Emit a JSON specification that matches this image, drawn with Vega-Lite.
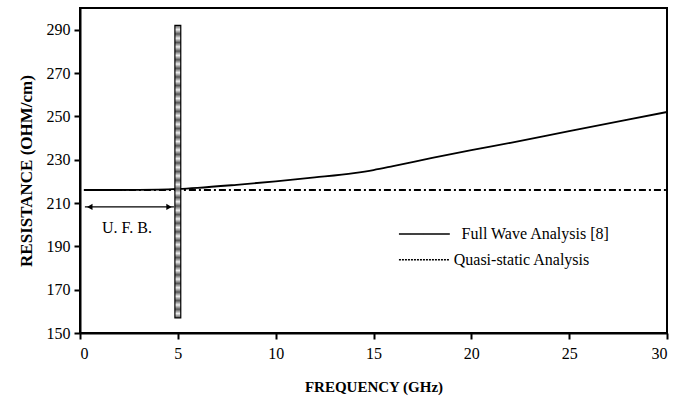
{
  "$schema": "https://vega.github.io/schema/vega-lite/v6.json",
  "width": 587,
  "height": 325,
  "autosize": {"type": "none"},
  "padding": {"left": 80, "top": 8, "right": 22, "bottom": 66},
  "background": "white",
  "config": {
    "view": {"stroke": "black", "strokeWidth": 2},
    "font": "Liberation Serif",
    "axis": {
      "labelFont": "Liberation Serif", "labelFontSize": 16, "labelColor": "black",
      "titleFont": "Liberation Serif", "titleFontWeight": "bold", "titleColor": "black",
      "domainColor": "black", "domainWidth": 2, "tickColor": "black", "tickWidth": 2, "tickSize": 6, "grid": false
    }
  },
  "datasets": {
    "full": [
      {"f": 0.2, "r": 216}, {"f": 2, "r": 216}, {"f": 4, "r": 216.2}, {"f": 5, "r": 216.5},
      {"f": 6, "r": 217}, {"f": 8, "r": 218.4}, {"f": 10, "r": 220}, {"f": 12, "r": 221.8},
      {"f": 14, "r": 223.8}, {"f": 15, "r": 225.2}, {"f": 16, "r": 227}, {"f": 18, "r": 230.8},
      {"f": 20, "r": 234.4}, {"f": 22, "r": 237.8}, {"f": 25, "r": 243.2}, {"f": 28, "r": 248.5}, {"f": 30, "r": 252}
    ],
    "quasi": [{"f": 0.2, "r": 216}, {"f": 30, "r": 216}],
    "bar": [{"f1": 4.85, "f2": 5.15, "r1": 157, "r2": 292}],
    "arrow": [{"f1": 0.25, "f2": 4.8, "r": 208.2}],
    "heads": [{"f": 0.5, "r": 208.2, "s": "triangle-left"}, {"f": 4.55, "r": 208.2, "s": "triangle-right"}],
    "ufb": [{"f": 2.4, "r": 198.5, "t": "U. F. B."}],
    "legline": [{"f1": 16.3, "f2": 18.9, "r": 195.7, "k": "full"}, {"f1": 16.3, "f2": 18.9, "r": 183.8, "k": "quasi"}],
    "legtext": [{"f": 19.5, "r": 195.7, "t": "Full Wave Analysis [8]"}, {"f": 19.1, "r": 183.8, "t": "Quasi-static Analysis"}]
  },
  "layer": [
    {
      "data": {"name": "full"},
      "mark": {"type": "line", "color": "black", "strokeWidth": 1.8, "interpolate": "monotone"},
      "encoding": {
        "x": {"field": "f", "type": "quantitative", "scale": {"domain": [0, 30], "nice": false},
          "axis": {"values": [0, 5, 10, 15, 20, 25, 30], "title": "FREQUENCY (GHz)", "titleFontSize": 15, "titlePadding": 18, "labelPadding": 6}},
        "y": {"field": "r", "type": "quantitative", "scale": {"domain": [150, 300], "nice": false, "zero": false},
          "axis": {"values": [150, 170, 190, 210, 230, 250, 270, 290], "title": "RESISTANCE (OHM/cm)", "titleFontSize": 17, "titlePadding": 11, "labelPadding": 4}}
      }
    },
    {
      "data": {"name": "quasi"},
      "mark": {"type": "line", "color": "black", "strokeWidth": 1.8, "strokeDash": [7, 3, 2, 3]},
      "encoding": {"x": {"field": "f", "type": "quantitative"}, "y": {"field": "r", "type": "quantitative"}}
    },
    {
      "data": {"name": "bar"},
      "mark": {"type": "rect", "stroke": "black", "strokeWidth": 1.2,
        "fill": {"gradient": "linear", "x1": 0, "y1": 0, "x2": 0, "y2": 1, "stops": [
          {"offset": 0, "color": "#555"}, {"offset": 0.0147, "color": "#eee"}, {"offset": 0.0294, "color": "#555"}, {"offset": 0.0441, "color": "#eee"},
          {"offset": 0.0588, "color": "#555"}, {"offset": 0.0735, "color": "#eee"}, {"offset": 0.0882, "color": "#555"}, {"offset": 0.1029, "color": "#eee"},
          {"offset": 0.1176, "color": "#555"}, {"offset": 0.1324, "color": "#eee"}, {"offset": 0.1471, "color": "#555"}, {"offset": 0.1618, "color": "#eee"},
          {"offset": 0.1765, "color": "#555"}, {"offset": 0.1912, "color": "#eee"}, {"offset": 0.2059, "color": "#555"}, {"offset": 0.2206, "color": "#eee"},
          {"offset": 0.2353, "color": "#555"}, {"offset": 0.25, "color": "#eee"}, {"offset": 0.2647, "color": "#555"}, {"offset": 0.2794, "color": "#eee"},
          {"offset": 0.2941, "color": "#555"}, {"offset": 0.3088, "color": "#eee"}, {"offset": 0.3235, "color": "#555"}, {"offset": 0.3382, "color": "#eee"},
          {"offset": 0.3529, "color": "#555"}, {"offset": 0.3676, "color": "#eee"}, {"offset": 0.3824, "color": "#555"}, {"offset": 0.3971, "color": "#eee"},
          {"offset": 0.4118, "color": "#555"}, {"offset": 0.4265, "color": "#eee"}, {"offset": 0.4412, "color": "#555"}, {"offset": 0.4559, "color": "#eee"},
          {"offset": 0.4706, "color": "#555"}, {"offset": 0.4853, "color": "#eee"}, {"offset": 0.5, "color": "#555"}, {"offset": 0.5147, "color": "#eee"},
          {"offset": 0.5294, "color": "#555"}, {"offset": 0.5441, "color": "#eee"}, {"offset": 0.5588, "color": "#555"}, {"offset": 0.5735, "color": "#eee"},
          {"offset": 0.5882, "color": "#555"}, {"offset": 0.6029, "color": "#eee"}, {"offset": 0.6176, "color": "#555"}, {"offset": 0.6324, "color": "#eee"},
          {"offset": 0.6471, "color": "#555"}, {"offset": 0.6618, "color": "#eee"}, {"offset": 0.6765, "color": "#555"}, {"offset": 0.6912, "color": "#eee"},
          {"offset": 0.7059, "color": "#555"}, {"offset": 0.7206, "color": "#eee"}, {"offset": 0.7353, "color": "#555"}, {"offset": 0.75, "color": "#eee"},
          {"offset": 0.7647, "color": "#555"}, {"offset": 0.7794, "color": "#eee"}, {"offset": 0.7941, "color": "#555"}, {"offset": 0.8088, "color": "#eee"},
          {"offset": 0.8235, "color": "#555"}, {"offset": 0.8382, "color": "#eee"}, {"offset": 0.8529, "color": "#555"}, {"offset": 0.8676, "color": "#eee"},
          {"offset": 0.8824, "color": "#555"}, {"offset": 0.8971, "color": "#eee"}, {"offset": 0.9118, "color": "#555"}, {"offset": 0.9265, "color": "#eee"},
          {"offset": 0.9412, "color": "#555"}, {"offset": 0.9559, "color": "#eee"}, {"offset": 0.9706, "color": "#555"}, {"offset": 0.9853, "color": "#eee"},
          {"offset": 1, "color": "#555"}
        ]}},
      "encoding": {
        "x": {"field": "f1", "type": "quantitative"}, "x2": {"field": "f2"},
        "y": {"field": "r1", "type": "quantitative"}, "y2": {"field": "r2"}
      }
    },
    {
      "data": {"name": "arrow"},
      "mark": {"type": "rule", "color": "black", "strokeWidth": 1.3},
      "encoding": {"x": {"field": "f1", "type": "quantitative"}, "x2": {"field": "f2"}, "y": {"field": "r", "type": "quantitative"}}
    },
    {
      "data": {"name": "heads"},
      "mark": {"type": "point", "filled": true, "color": "black", "size": 40, "opacity": 1},
      "encoding": {"x": {"field": "f", "type": "quantitative"}, "y": {"field": "r", "type": "quantitative"},
        "shape": {"field": "s", "type": "nominal", "scale": null}}
    },
    {
      "data": {"name": "ufb"},
      "mark": {"type": "text", "fontSize": 16, "color": "black", "font": "Liberation Serif"},
      "encoding": {"x": {"field": "f", "type": "quantitative"}, "y": {"field": "r", "type": "quantitative"}, "text": {"field": "t"}}
    },
    {
      "data": {"name": "legline"},
      "mark": {"type": "rule", "color": "black", "strokeWidth": 1.5},
      "encoding": {"x": {"field": "f1", "type": "quantitative"}, "x2": {"field": "f2"}, "y": {"field": "r", "type": "quantitative"},
        "strokeDash": {"field": "k", "type": "nominal", "scale": {"domain": ["full", "quasi"], "range": [[1, 0], [2, 1]]}, "legend": null}}
    },
    {
      "data": {"name": "legtext"},
      "mark": {"type": "text", "fontSize": 16, "color": "black", "align": "left", "font": "Liberation Serif"},
      "encoding": {"x": {"field": "f", "type": "quantitative"}, "y": {"field": "r", "type": "quantitative"}, "text": {"field": "t"}}
    }
  ]
}
